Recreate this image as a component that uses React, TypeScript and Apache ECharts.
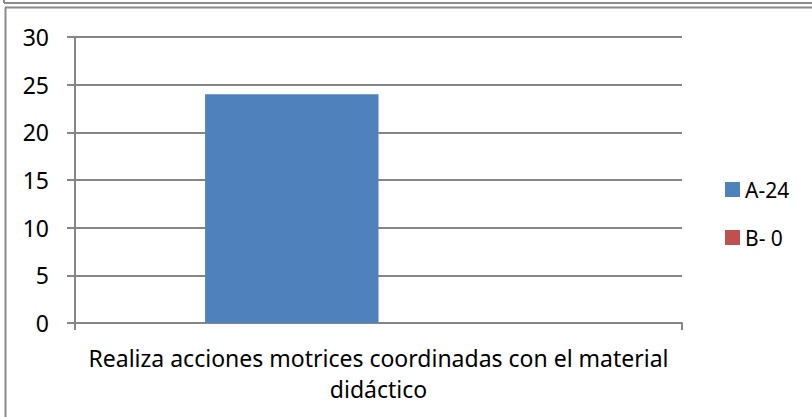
import React, { useEffect, useRef } from "react";
import * as echarts from "echarts";

const categories = ["Realiza acciones motrices coordinadas con el material didáctico"];
const seriesNames = ["A-24", "B- 0"];
const seriesA = [24];
const seriesB = [0];
const yTicks = { min: 0, max: 30, interval: 5 };
const colors = ["#4F81BD", "#C0504D"];

export default function App() {
  const ref = useRef<HTMLDivElement>(null);
  useEffect(() => {
    const chart = echarts.init(ref.current!, null, { renderer: "svg" });
    const font = "Noto Sans";
    chart.setOption({
      animation: false,
      backgroundColor: "#ffffff",
      textStyle: { fontFamily: font },
      grid: { left: 75, right: 130, top: 37, bottom: 94, containLabel: false },
      legend: {
        orient: "vertical",
        left: 720,
        top: 174,
        itemWidth: 15,
        itemHeight: 15,
        itemGap: 27,
        icon: "rect",
        textStyle: { fontFamily: font, fontSize: 21, color: "#000" },
        data: seriesNames,
      },
      xAxis: {
        type: "category",
        data: categories,
        axisLine: { lineStyle: { color: "#868686", width: 2 } },
        axisTick: { show: true, length: 7, lineStyle: { color: "#868686", width: 2 } },
        axisLabel: {
          color: "#000",
          fontFamily: font,
          fontSize: 23,
          margin: 19,
          lineHeight: 31,
          formatter: (v: string) => {
            const i = v.lastIndexOf(" ");
            return v.slice(0, i) + "\n" + v.slice(i + 1);
          },
        },
      },
      yAxis: {
        type: "value",
        min: yTicks.min,
        max: yTicks.max,
        interval: yTicks.interval,
        axisLine: { show: true, lineStyle: { color: "#868686", width: 2 } },
        axisTick: { show: true, length: 8, lineStyle: { color: "#868686", width: 2 } },
        axisLabel: { color: "#000", fontFamily: font, fontSize: 23, margin: 26 },
        splitLine: { lineStyle: { color: "#868686", width: 2 } },
      },
      series: [
        {
          name: seriesNames[0],
          type: "bar",
          data: seriesA,
          itemStyle: { color: colors[0] },
          barGap: "0%",
          barCategoryGap: "42.857%",
        },
        {
          name: seriesNames[1],
          type: "bar",
          data: seriesB,
          itemStyle: { color: colors[1] },
        },
      ],
      graphic: [
        { type: "line", shape: { x1: 4, y1: 3, x2: 812, y2: 3 }, style: { stroke: "#8a8a8a", lineWidth: 2 } },
        { type: "line", shape: { x1: 4, y1: 0, x2: 4, y2: 3 }, style: { stroke: "#8a8a8a", lineWidth: 2 } },
        { type: "line", shape: { x1: 5, y1: 7.5, x2: 812, y2: 7.5 }, style: { stroke: "#8a8a8a", lineWidth: 2 } },
        { type: "line", shape: { x1: 5.5, y1: 7.5, x2: 5.5, y2: 417 }, style: { stroke: "#8a8a8a", lineWidth: 2 } },
      ],
    });
    return () => chart.dispose();
  }, []);
  return <div ref={ref} style={{ width: 812, height: 417, position: "absolute", left: 0, top: 0 }} />;
}
